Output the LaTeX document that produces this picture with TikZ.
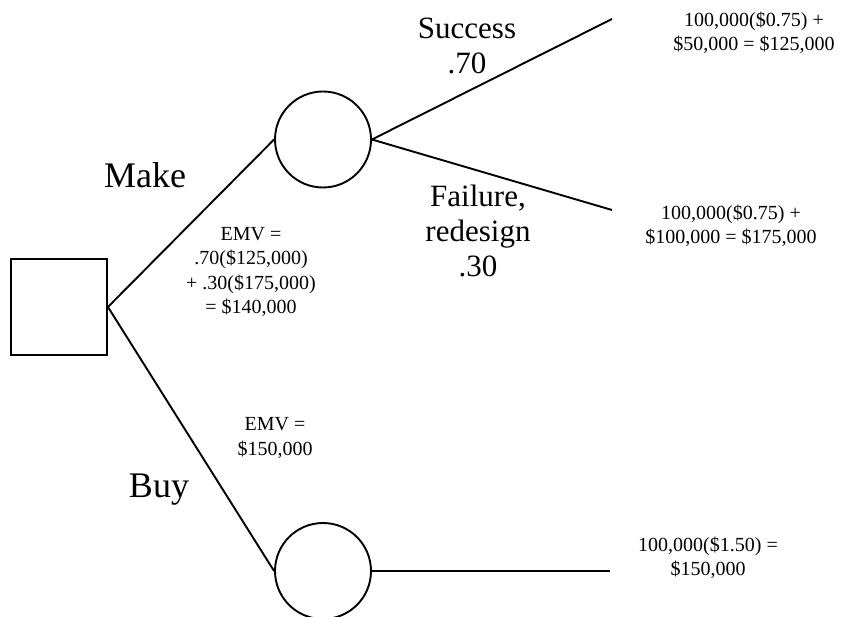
\documentclass[tikz,border=0pt]{standalone}
\usepackage{fontspec}
\setmainfont{Liberation Serif}
\begin{document}
\begin{tikzpicture}[x=1pt,y=-1pt,
  branch/.style={line width=1.9pt},
  decision/.style={draw,line width=1.9pt,minimum size=96pt,inner sep=0pt},
  chance/.style={draw,circle,line width=1.9pt,minimum size=96pt,inner sep=0pt},
  biglabel/.style={align=center,inner sep=0pt,font=\fontsize{36}{38}\selectfont},
  midlabel/.style={align=center,inner sep=0pt,font=\fontsize{31}{35}\selectfont},
  smalllabel/.style={align=center,inner sep=0pt,font=\fontsize{20}{24.5}\selectfont}]
\useasboundingbox (0,0) rectangle (843,617);
\node[decision] (sq) at (59,307) {};
\node[chance] (c1) at (323,139.5) {};
\node[chance] (c2) at (323,571) {};
\coordinate (e1) at (612,19);
\coordinate (e2) at (612,210);
\coordinate (e3) at (610,571);
\draw[branch] (sq.east) -- (c1.west);
\draw[branch] (sq.east) -- (c2.west);
\draw[branch] (c1.east) -- (e1);
\draw[branch] (c1.east) -- (e2);
\draw[branch] (c2.east) -- (e3);
\node[biglabel] (make) at (145,175) {Make};
\node[biglabel] (buy) at (159,490) {Buy};
\node[midlabel] (succ) at (467,46) {Success\\.70};
\node[midlabel] (fail) at (478,231) {Failure,\\redesign\\.30};
\node[smalllabel] (emv1) at (251,272) {EMV =\\.70(\$125,000)\\+ .30(\$175,000)\\= \$140,000};
\node[smalllabel] (emv2) at (275,438) {EMV =\\\$150,000};
\node[smalllabel] (p1) at (754,33) {100,000(\$0.75) +\\\$50,000 = \$125,000};
\node[smalllabel] (p2) at (731,226) {100,000(\$0.75) +\\\$100,000 = \$175,000};
\node[smalllabel] (p3) at (708,558) {100,000(\$1.50) =\\\$150,000};
\end{tikzpicture}
\end{document}
